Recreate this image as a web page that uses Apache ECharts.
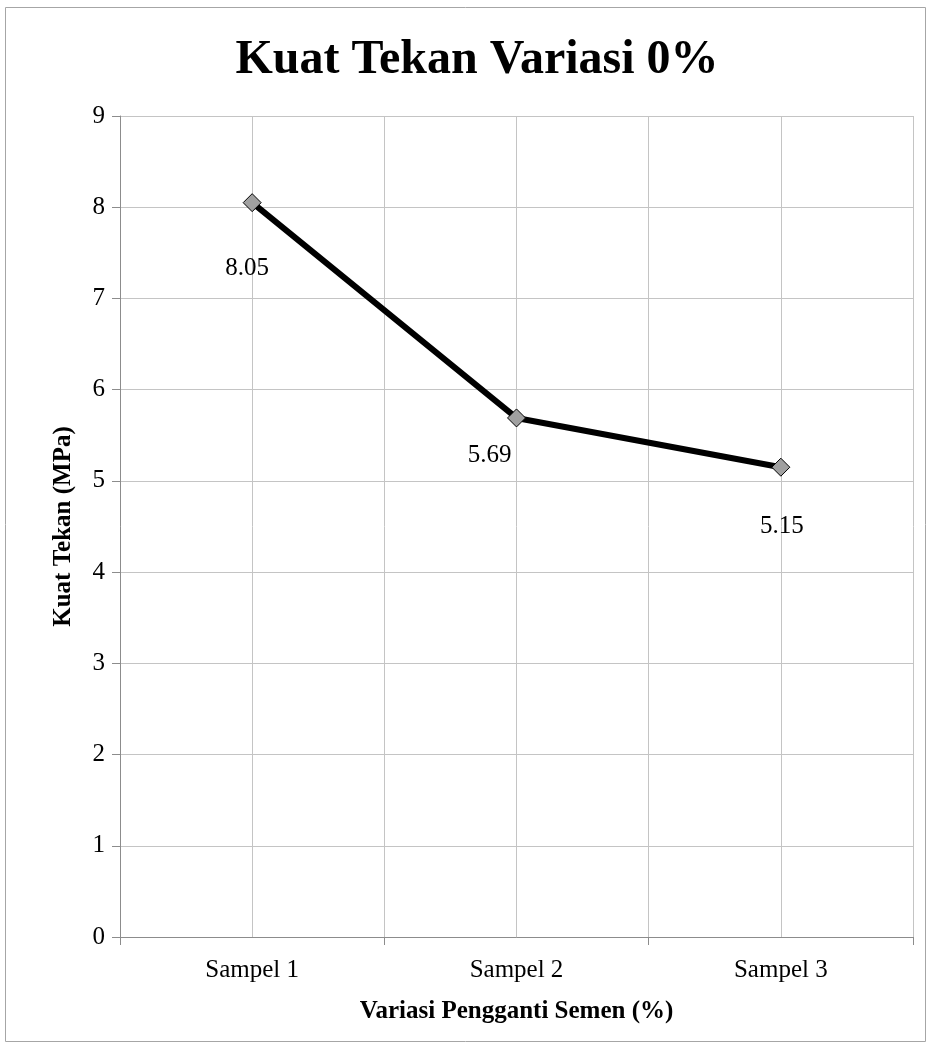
<!DOCTYPE html>
<html>
<head>
<meta charset="utf-8">
<script src="https://cdn.jsdelivr.net/npm/echarts@6/dist/echarts.min.js"></script>
<style>
  html, body { margin: 0; padding: 0; background: #fff; }
  #chart { width: 931px; height: 1048px; }
</style>
</head>
<body>
<div id="chart"></div>
<script>
// Sample names along the category axis
const categories = ['Sampel 1', 'Sampel 2', 'Sampel 3'];
// Compressive strength per sample (MPa)
const kuatTekan = [8.05, 5.69, 5.15];
// Value axis range
const yMin = 0;
const yMax = 9;
const yStep = 1;

const serif = '"Liberation Serif", "Times New Roman", serif';
const gridColor = '#c4c4c4';
const axisColor = '#8c8c8c';

// Per-point label nudges so each value sits clear of the line
const labelOffsets = [[-5, 39], [-27, 10], [1, 32]];

const chart = echarts.init(document.getElementById('chart'), null, { renderer: 'canvas' });

chart.setOption({
  backgroundColor: '#ffffff',
  animation: false,
  graphic: [{
    type: 'rect',
    shape: { x: 5.5, y: 7.5, width: 920, height: 1034 },
    style: { fill: 'none', stroke: '#a6a6a6', lineWidth: 1 },
    z: -1
  }],
  title: {
    text: 'Kuat Tekan Variasi 0%',
    left: 472,
    textAlign: 'center',
    top: 32,
    textStyle: { fontFamily: serif, fontWeight: 'bold', fontSize: 48, color: '#000' }
  },
  grid: { left: 120, right: 18, top: 116, bottom: 111, containLabel: false },
  xAxis: [{
    type: 'category',
    data: categories,
    boundaryGap: true,
    axisLine: { show: true, lineStyle: { color: axisColor, width: 1 } },
    axisTick: { show: true, length: 8, lineStyle: { color: axisColor } },
    splitLine: { show: false },
    axisLabel: { fontFamily: serif, fontSize: 25, color: '#000', margin: 21 },
    name: 'Variasi Pengganti Semen (%)',
    nameLocation: 'middle',
    nameGap: 62,
    nameTextStyle: { fontFamily: serif, fontWeight: 'bold', fontSize: 25, color: '#000' }
  }, {
    // Helper axis: vertical gridlines at every half category
    type: 'value',
    position: 'top',
    min: 0,
    max: categories.length * 2,
    interval: 1,
    axisLine: { show: false },
    axisTick: { show: false },
    axisLabel: { show: false },
    splitLine: { show: true, lineStyle: { color: gridColor, width: 1 } }
  }],
  yAxis: {
    type: 'value',
    min: yMin,
    max: yMax,
    interval: yStep,
    axisLine: { show: true, lineStyle: { color: axisColor, width: 1 } },
    axisTick: { show: true, length: 8, lineStyle: { color: axisColor } },
    splitLine: { show: true, lineStyle: { color: gridColor, width: 1 } },
    axisLabel: { fontFamily: serif, fontSize: 25, color: '#000', margin: 15 },
    name: 'Kuat Tekan (MPa)',
    nameLocation: 'middle',
    nameGap: 44,
    nameTextStyle: { fontFamily: serif, fontWeight: 'bold', fontSize: 25, color: '#000' }
  },
  series: [{
    type: 'line',
    xAxisIndex: 0,
    data: kuatTekan.map((v, i) => ({
      value: v,
      label: { offset: labelOffsets[i] }
    })),
    symbol: 'diamond',
    symbolSize: 18,
    lineStyle: { color: '#000', width: 6 },
    itemStyle: { color: '#a0a0a0', borderColor: '#000', borderWidth: 1 },
    label: {
      show: true,
      position: 'bottom',
      fontFamily: serif,
      fontSize: 25,
      color: '#000',
      formatter: p => p.value.toFixed(2)
    },
    z: 3
  }]
});
</script>
</body>
</html>
